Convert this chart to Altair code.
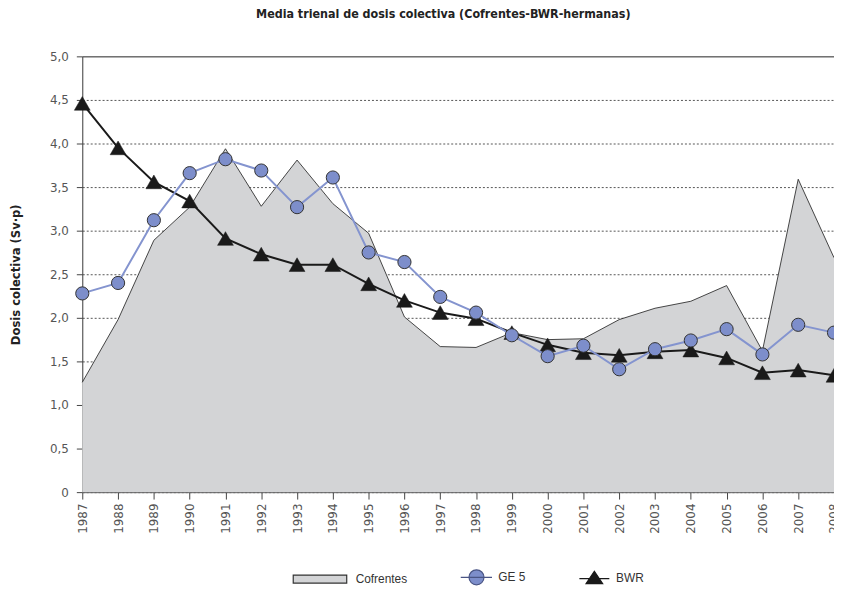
import altair as alt
import pandas as pd

years = list(range(1987, 2009))
cofrentes = [1.26, 1.98, 2.89, 3.27, 3.94, 3.28, 3.81, 3.31, 2.97, 2.01, 1.67,
             1.66, 1.83, 1.75, 1.76, 1.98, 2.11, 2.19, 2.37, 1.62, 3.59, 2.69]
ge5 = [2.28, 2.40, 3.12, 3.66, 3.82, 3.69, 3.27, 3.61, 2.75, 2.64, 2.24,
       2.06, 1.80, 1.56, 1.68, 1.41, 1.64, 1.74, 1.87, 1.58, 1.92, 1.83]
bwr = [4.46, 3.95, 3.56, 3.34, 2.91, 2.73, 2.61, 2.61, 2.39, 2.20, 2.06,
       1.99, 1.83, 1.69, 1.60, 1.57, 1.61, 1.63, 1.54, 1.37, 1.40, 1.34]
series_names = ["Cofrentes", "GE 5", "BWR"]
y_ticks = [0, 0.5, 1, 1.5, 2, 2.5, 3, 3.5, 4, 4.5, 5]

rows = []
for name, vals in zip(series_names, [cofrentes, ge5, bwr]):
    for yr, v in zip(years, vals):
        rows.append({"year": yr, "series": name, "value": v})
df = pd.DataFrame(rows)

NARROW = "Liberation Sans Narrow, DejaVu Sans Condensed, Liberation Sans"
AREA_FILL = "#d3d4d6"
BLUE_LINE = "#8494cf"
BLUE_FILL = "#7d8ecb"
DARK = "#1a1a1a"

x_enc = alt.X("year:Q",
              scale=alt.Scale(domain=[1987, 2008], nice=False, zero=False),
              axis=alt.Axis(values=years, format="d", labelAngle=270,
                            labelAlign="right", labelBaseline="middle",
                            labelPadding=4, tickSize=7, tickColor="#444",
                            domainColor="#444", labelFont="DejaVu Sans",
                            labelFontSize=12, labelColor="#555", grid=False,
                            title=None, labelOverlap=False, labelFlush=False))
y_enc = alt.Y("value:Q",
              scale=alt.Scale(domain=[0, 5], nice=False),
              axis=alt.Axis(values=y_ticks, tickSize=6, labelPadding=8,
                            tickColor="#444", domainColor="#444",
                            labelFont="DejaVu Sans", labelFontSize=12,
                            labelColor="#555",
                            labelExpr="datum.value == 0 ? '0' : replace(format(datum.value, '.1f'), '.', ',')",
                            grid=True,
                            gridDash={"condition": {"test": "datum.value >= 5", "value": []}, "value": [2, 2]},
                            gridColor={"condition": {"test": "datum.value >= 5", "value": "#333"}, "value": "#555"},
                            gridWidth=1,
                            title="Dosis colectiva (Sv·p)",
                            titleFont=NARROW, titleFontSize=13,
                            titleFontWeight="bold", titleColor="#222",
                            titleAngle=270, titleX=-67, titleY=220,
                            titleAlign="center", titleBaseline="middle"))

base = alt.Chart(df)

area = base.transform_filter("datum.series == 'Cofrentes'").mark_area(
    color=AREA_FILL, opacity=1,
    line={"color": DARK, "strokeWidth": 0.8}
).encode(x=x_enc, y=y_enc)

bwr_line = base.transform_filter("datum.series == 'BWR'").mark_line(
    color=DARK, strokeWidth=2).encode(x=x_enc, y=y_enc)
bwr_pts = base.transform_filter("datum.series == 'BWR'").mark_point(
    shape="triangle-up", filled=True, fill=DARK, stroke=DARK,
    strokeWidth=0.5, size=256, opacity=1).encode(x=x_enc, y=y_enc)

ge_line = base.transform_filter("datum.series == 'GE 5'").mark_line(
    color=BLUE_LINE, strokeWidth=2).encode(x=x_enc, y=y_enc)
ge_pts = base.transform_filter("datum.series == 'GE 5'").mark_point(
    shape="circle", filled=True, fill=BLUE_FILL, stroke="#333",
    strokeWidth=1, size=177, opacity=1).encode(x=x_enc, y=y_enc)

legend_shapes = [
    "M-1,-0.15H1V0.15H-1Z",
    "M-0.07,0H1.1M0.8,0A0.28,0.28 0 1,1 0.24,0A0.28,0.28 0 1,1 0.8,0Z",
    "M-0.04,0H1.08M0.52,-0.27L0.83,0.19L0.21,0.19Z",
]
legend_fills = [AREA_FILL, BLUE_FILL, DARK]
legend_strokes = ["#333", "#4a5585", DARK]

leg = alt.Legend(orient="none", legendX=212, legendY=498, direction="horizontal",
                 title=None, symbolSize=2916, labelOffset=8, columnPadding=27,
                 symbolStrokeWidth=1.2, labelFont="Liberation Sans",
                 labelFontSize=12, labelColor="#333", padding=0)

legend_layer = base.transform_filter("datum.value > 100").mark_point(
    filled=True, opacity=1).encode(
    x=x_enc, y=y_enc,
    shape=alt.Shape("series:N", scale=alt.Scale(domain=series_names, range=legend_shapes), legend=leg),
    fill=alt.Fill("series:N", scale=alt.Scale(domain=series_names, range=legend_fills), legend=leg),
    stroke=alt.Stroke("series:N", scale=alt.Scale(domain=series_names, range=legend_strokes), legend=leg),
)

chart = alt.layer(area, bwr_line, bwr_pts, ge_line, ge_pts, legend_layer).properties(
    width=759, height=440,
    title=alt.TitleParams("Media trienal de dosis colectiva (Cofrentes-BWR-hermanas)",
                          font=NARROW, fontSize=12.5, fontWeight="bold",
                          color="#222", anchor="middle", offset=30, dx=-15),
    autosize=alt.AutoSizeParams(type="none"),
    padding={"left": 75, "top": 46, "right": 0, "bottom": 97},
).configure_view(fill="#e0e3f3", stroke=None).configure(background="white")

chart.save("out.html", embed_options={"renderer": "svg", "actions": False})
